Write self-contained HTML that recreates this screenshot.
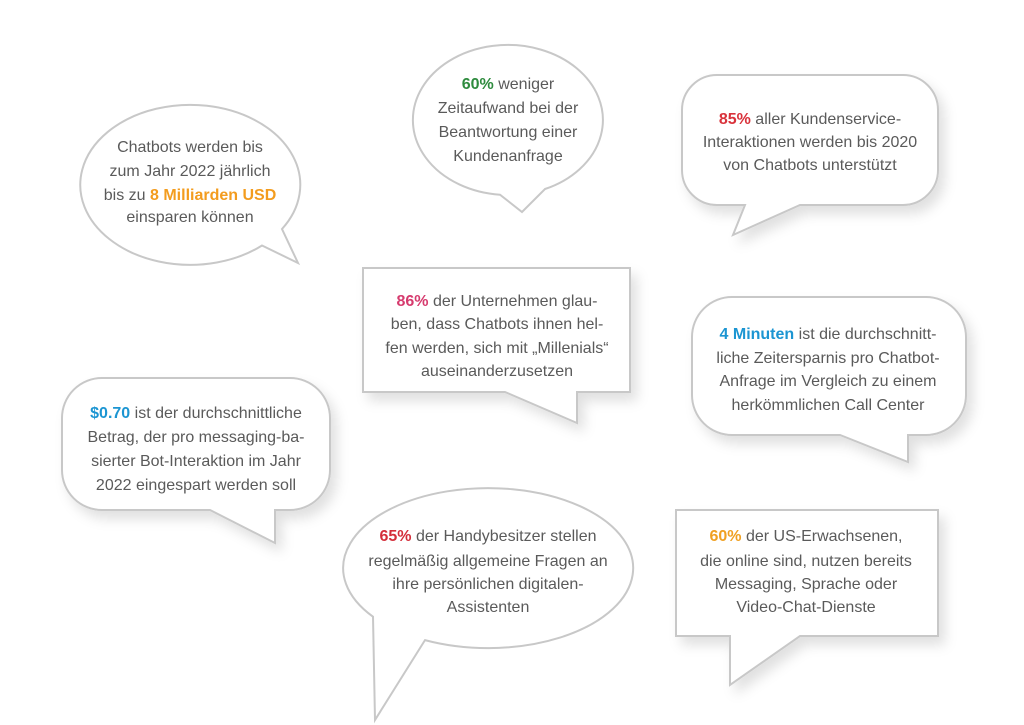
<!DOCTYPE html>
<html><head><meta charset="utf-8"><style>
html,body{margin:0;padding:0;background:#fff;}
svg{display:block}
text{font-family:"Liberation Sans Narrow","Liberation Sans",sans-serif;font-size:16px;fill:#5a5a5a;text-anchor:middle}
.b{font-weight:bold}
.bub{fill:#fff;stroke:#c8c8c8;stroke-width:2}
</style></head><body>
<svg width="1024" height="725" viewBox="0 0 1024 725">
<defs><filter id="sh" x="-20%" y="-20%" width="150%" height="150%"><feDropShadow dx="6" dy="8" stdDeviation="6" flood-color="#000" flood-opacity="0.12"/></filter></defs>

<g>
<path class="bub" d="M262,245.5 A110,80 0 1 1 282,229 L298,263 Z"/>
<text x="190" y="152">Chatbots werden bis</text>
<text x="190" y="176">zum Jahr 2022 jährlich</text>
<text x="190" y="200">bis zu <tspan class="b" style="fill:#f39c1e">8 Milliarden USD</tspan></text>
<text x="190" y="222">einsparen können</text>
</g>

<g>
<path class="bub" d="M500,194.7 A95,75 0 1 1 545,189 L522,212 Z"/>
<text x="508" y="89"><tspan class="b" style="fill:#2e8b3e">60%</tspan> weniger</text>
<text x="508" y="113">Zeitaufwand bei der</text>
<text x="508" y="137">Beantwortung einer</text>
<text x="508" y="161">Kundenanfrage</text>
</g>

<g filter="url(#sh)">
<path class="bub" d="M717,75 H903 A35,35 0 0 1 938,110 V170 A35,35 0 0 1 903,205 H800 L733,235 L745,205 H717 A35,35 0 0 1 682,170 V110 A35,35 0 0 1 717,75 Z"/>
<text x="810" y="124"><tspan class="b" style="fill:#d9323a">85%</tspan> aller Kundenservice-</text>
<text x="810" y="147">Interaktionen werden bis 2020</text>
<text x="810" y="170">von Chatbots unterstützt</text>
</g>

<g filter="url(#sh)">
<path class="bub" d="M363,268 H630 V392 H577 V423 L505,392 H363 Z"/>
<text x="497" y="306"><tspan class="b" style="fill:#d63a6e">86%</tspan> der Unternehmen glau-</text>
<text x="497" y="329">ben, dass Chatbots ihnen hel-</text>
<text x="497" y="353">fen werden, sich mit „Millenials“</text>
<text x="497" y="376">auseinanderzusetzen</text>
</g>

<g filter="url(#sh)">
<path class="bub" d="M732,297 H926 A40,40 0 0 1 966,337 V395 A40,40 0 0 1 926,435 H908 V462 L840,435 H732 A40,40 0 0 1 692,395 V337 A40,40 0 0 1 732,297 Z"/>
<text x="828" y="339"><tspan class="b" style="fill:#1a95d2">4 Minuten</tspan> ist die durchschnitt-</text>
<text x="828" y="363">liche Zeitersparnis pro Chatbot-</text>
<text x="828" y="386">Anfrage im Vergleich zu einem</text>
<text x="828" y="410">herkömmlichen Call Center</text>
</g>

<g filter="url(#sh)">
<path class="bub" d="M102,378 H290 A40,40 0 0 1 330,418 V470 A40,40 0 0 1 290,510 H275 V543 L210,510 H102 A40,40 0 0 1 62,470 V418 A40,40 0 0 1 102,378 Z"/>
<text x="196" y="418"><tspan class="b" style="fill:#1a95d2">$0.70</tspan> ist der durchschnittliche</text>
<text x="196" y="442">Betrag, der pro messaging-ba-</text>
<text x="196" y="466">sierter Bot-Interaktion im Jahr</text>
<text x="196" y="490">2022 eingespart werden soll</text>
</g>

<g>
<path class="bub" d="M373,616.7 A145,80 0 1 1 425,640.1 L375,720 Z"/>
<text x="488" y="541"><tspan class="b" style="fill:#d42e3a">65%</tspan> der Handybesitzer stellen</text>
<text x="488" y="566">regelmäßig allgemeine Fragen an</text>
<text x="488" y="589">ihre persönlichen digitalen-</text>
<text x="488" y="612">Assistenten</text>
</g>

<g filter="url(#sh)">
<path class="bub" d="M676,510 H938 V636 H800 L730,685 V636 H676 Z"/>
<text x="806" y="541"><tspan class="b" style="fill:#f0a020">60%</tspan> der US-Erwachsenen,</text>
<text x="806" y="566">die online sind, nutzen bereits</text>
<text x="806" y="589">Messaging, Sprache oder</text>
<text x="806" y="612">Video-Chat-Dienste</text>
</g>
</svg>
</body></html>
